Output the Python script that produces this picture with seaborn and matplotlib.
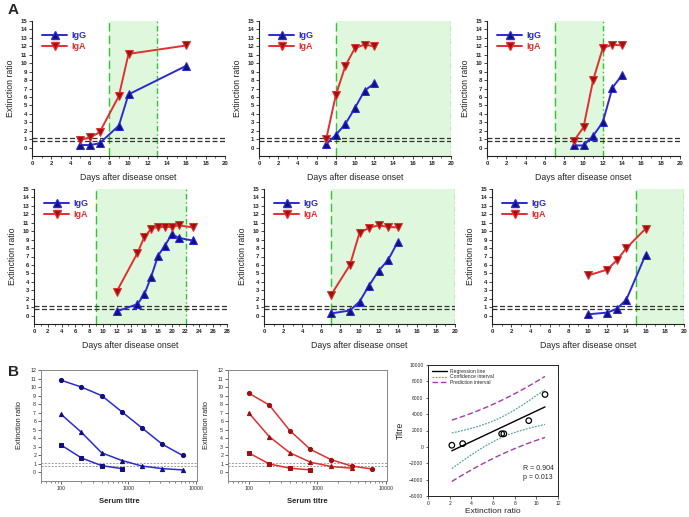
import numpy as np
import pandas as pd
import matplotlib
matplotlib.use("Agg")
import matplotlib.pyplot as plt
from matplotlib.lines import Line2D
import seaborn as sns

# ---- data: panel A (extinction ratio vs days after onset) ----
a_days = [
    [5, 6, 7, 9, 10, 16],
    [7, 8, 9, 10, 11, 12],
    [9, 10, 11, 12, 13, 14],
    [12, 15, 16, 17, 18, 19, 20, 21, 23],
    [7, 9, 10, 11, 12, 13, 14],
    [10, 12, 13, 14, 16],
]
a_igg = [
    [0.3, 0.3, 0.5, 2.6, 6.3, 9.7],
    [0.4, 1.5, 2.8, 4.7, 6.75, 7.6],
    [0.25, 0.25, 1.4, 3.0, 7.1, 8.6],
    [0.5, 1.35, 2.5, 4.6, 7.1, 8.3, 9.65, 9.2, 8.9],
    [0.25, 0.6, 1.65, 3.55, 5.3, 6.6, 8.7],
    [0.15, 0.35, 0.8, 1.9, 7.2],
]
a_iga = [
    [0.9, 1.2, 1.8, 6.1, 11.1, 12.1],
    [1.0, 6.2, 9.7, 11.8, 12.2, 12.0],
    [0.8, 2.4, 8.0, 11.8, 12.2, 12.1],
    [2.85, 7.4, 9.3, 10.3, 10.5, 10.5, 10.5, 10.7, 10.45],
    [2.4, 6.0, 9.8, 10.4, 10.7, 10.5, 10.45],
    [4.75, 5.45, 6.55, 8.0, 10.3],
]
a_window = [(8, 13), (8, 20), (7, 12), (9, 22), (7, 20), (15, 20)]
a_xmax = [20, 20, 20, 28, 20, 20]
cutoffs = [0.8, 1.1]

# ---- data: panel B (dilution series) ----
titres = [100, 200, 400, 800, 1600, 3200, 6400]
igg_dil = [
    [10.8, 10.0, 9.0, 7.1, 5.2, 3.3, 2.0],
    [6.8, 4.7, 2.3, 1.4, 0.75, 0.45, 0.3],
    [3.2, 1.7, 0.8, 0.45],
]
iga_dil = [
    [9.3, 7.9, 4.9, 2.7, 1.5, 0.75, 0.4],
    [7.0, 4.2, 2.3, 1.2, 0.7, 0.5],
    [2.3, 1.0, 0.5, 0.3],
]
reg_ext = [2.2, 3.2, 6.8, 7.0, 9.3, 10.8]
reg_titre = [200, 400, 1600, 1600, 3200, 6400]
T_CRIT = 2.776  # t(0.975, df=4)

sns.set_theme(style="ticks")
plt.rcParams["font.family"] = ["Liberation Sans", "DejaVu Sans"]

W, H = 689, 517
fig = plt.figure(figsize=(W / 100, H / 100), dpi=100)


def box(l, t, r, b):
    return [l / W, 1 - b / H, (r - l) / W, (b - t) / H]


BLUE, BLUE_M = "#2b2bd0", "#101080"
RED, RED_M = "#e03030", "#a01010"
GREEN = "#33c433"

a_boxes = [
    (32, 21, 225, 156), (259, 21, 451, 156), (487, 21, 680, 156),
    (34, 189, 227, 324), (264, 189, 455, 324), (492, 189, 684, 324),
]

for i, bb in enumerate(a_boxes):
    ax = fig.add_axes(box(*bb))
    lo, hi = a_window[i]
    ax.axvspan(lo, hi, color="#dff7dc", zorder=0)
    ax.axvline(lo, color=GREEN, ls=(0, (6, 3)), lw=1.0, zorder=1)
    ax.axvline(hi, color=GREEN, ls=(0, (4, 2, 1, 2)), lw=1.0, zorder=1)
    for c in cutoffs:
        ax.axhline(c, color="#333333", ls=(0, (4, 2)), lw=0.9, zorder=1)
    df = pd.DataFrame({"day": a_days[i], "IgG": a_igg[i], "IgA": a_iga[i]})
    sns.lineplot(data=df, x="day", y="IgG", ax=ax, color=BLUE, lw=1.4,
                 marker="^", markersize=5.5, markerfacecolor=BLUE_M,
                 markeredgecolor=BLUE, zorder=3)
    sns.lineplot(data=df, x="day", y="IgA", ax=ax, color=RED, lw=1.4,
                 marker="v", markersize=5.5, markerfacecolor=RED_M,
                 markeredgecolor=RED, zorder=4)
    ax.set_xlim(0, a_xmax[i])
    ax.set_ylim(-1, 15)
    ax.set_xticks(np.arange(0, a_xmax[i] + 1, 2))
    ax.set_xticks(np.arange(0, a_xmax[i] + 1, 1), minor=True)
    ax.set_yticks(np.arange(0, 16, 1))
    ax.tick_params(labelsize=4.3, length=2, width=0.6, pad=1.5)
    ax.tick_params(which="minor", length=1.2, width=0.5)
    for lab in ax.get_xticklabels() + ax.get_yticklabels():
        lab.set_fontweight("bold")
    sns.despine(ax=ax)
    for s in ["left", "bottom"]:
        ax.spines[s].set_linewidth(0.8)
        ax.spines[s].set_color("#222222")
    ax.set_xlabel("Days after disease onset", fontsize=6.3, labelpad=5)
    ax.set_ylabel("Extinction ratio", fontsize=6.3, labelpad=4)
    handles = [
        Line2D([], [], color=BLUE, lw=1.4, marker="^", markersize=5.5,
               markerfacecolor=BLUE_M, markeredgecolor=BLUE),
        Line2D([], [], color=RED, lw=1.4, marker="v", markersize=5.5,
               markerfacecolor=RED_M, markeredgecolor=RED),
    ]
    leg = ax.legend(handles, ["IgG", "IgA"], loc="upper left", frameon=False,
                    fontsize=6.5, handlelength=2.8, borderaxespad=0.3,
                    labelspacing=0.15, handletextpad=0.4,
                    bbox_to_anchor=(0.02, 0.97))
    for t, c in zip(leg.get_texts(), [BLUE, RED]):
        t.set_color(c)
        t.set_fontweight("bold")

fig.text(8 / W, 1 - 10 / H, "A", fontsize=11, fontweight="bold", va="center")
fig.text(8 / W, 1 - 372 / H, "B", fontsize=11, fontweight="bold", va="center")

# ---- panel B: dilution curves ----
b_boxes = [(41, 370, 197, 481), (228, 370, 387, 481)]
markers = ["o", "^", "s"]
for bb, series, col, mcol in zip(b_boxes, [igg_dil, iga_dil], [BLUE, RED], [BLUE_M, RED_M]):
    ax = fig.add_axes(box(*bb))
    for c in cutoffs:
        ax.axhline(c, color="#9a9a9a", ls=(0, (2, 1.5)), lw=0.7, zorder=1)
    for k, vals in enumerate(series):
        d = pd.DataFrame({"titre": titres[:len(vals)], "ratio": vals})
        sns.lineplot(data=d, x="titre", y="ratio", ax=ax, color=col, lw=1.1,
                     marker=markers[k], markersize=3, markerfacecolor=mcol,
                     markeredgecolor=mcol, zorder=3)
    ax.set_xscale("log")
    ax.set_xlim(50, 10500)
    ax.set_ylim(-1, 12)
    ax.set_yticks(np.arange(0, 13, 1))
    ax.set_xticks([100, 1000, 10000])
    ax.set_xticklabels(["100", "1000", "10000"])
    ax.tick_params(labelsize=3.8, length=2, width=0.5, pad=1.5)
    ax.tick_params(which="minor", length=1.2, width=0.4)
    for s in ax.spines.values():
        s.set_color("#888888")
        s.set_linewidth(0.7)
    ax.set_xlabel("Serum titre", fontsize=5.5, fontweight="bold", labelpad=5)
    ax.set_ylabel("Extinction ratio", fontsize=5.3, labelpad=5)

# ---- panel B: regression ----
x = np.array(reg_ext)
y = np.array(reg_titre, dtype=float)
n = len(x)
slope, intercept = np.polyfit(x, y, 1)
resid = y - (slope * x + intercept)
s_err = np.sqrt(np.sum(resid ** 2) / (n - 2))
sxx = np.sum((x - x.mean()) ** 2)
xs = np.linspace(x.min(), x.max(), 60)
ys = slope * xs + intercept
ci = T_CRIT * s_err * np.sqrt(1 / n + (xs - x.mean()) ** 2 / sxx)
pi = T_CRIT * s_err * np.sqrt(1 + 1 / n + (xs - x.mean()) ** 2 / sxx)
r_val = np.corrcoef(x, y)[0, 1]

ax = fig.add_axes(box(428, 365, 558, 496))
fit = pd.DataFrame({"x": xs, "fit": ys, "cl": ys - ci, "cu": ys + ci,
                    "pl": ys - pi, "pu": ys + pi})
sns.lineplot(data=fit, x="x", y="fit", ax=ax, color="black", lw=1.0,
             label="Regression line")
sns.lineplot(data=fit, x="x", y="cu", ax=ax, color="#5aa89a", lw=0.9,
             ls=(0, (1.5, 1)), label="Confidence interval")
sns.lineplot(data=fit, x="x", y="cl", ax=ax, color="#5aa89a", lw=0.9,
             ls=(0, (1.5, 1)), label="_nolegend_")
sns.lineplot(data=fit, x="x", y="pu", ax=ax, color="#a23ca8", lw=1.0,
             ls=(0, (4, 2)), label="Prediction interval")
sns.lineplot(data=fit, x="x", y="pl", ax=ax, color="#a23ca8", lw=1.0,
             ls=(0, (4, 2)), label="_nolegend_")
sns.scatterplot(x=x, y=y, ax=ax, s=16, facecolor="none", edgecolor="black",
                linewidth=0.9, zorder=4)
ax.set_xlim(0, 12)
ax.set_ylim(-6000, 10000)
ax.set_xticks(np.arange(0, 13, 2))
ax.set_yticks(np.arange(-6000, 10001, 2000))
ax.tick_params(labelsize=3.6, length=1.8, width=0.5, pad=1.5)
for s in ax.spines.values():
    s.set_color("#222222")
    s.set_linewidth(0.7)
ax.set_xlabel("Extinction ratio", fontsize=6.0, labelpad=1.5)
ax.set_ylabel("Titre", fontsize=6.3, labelpad=3)
ax.legend(loc="upper left", frameon=False, fontsize=3.6, handlelength=3,
          labelspacing=0.1, borderaxespad=0.4, handletextpad=0.5)
ax.text(8.8, -2700, f"R = {r_val:.3f}", fontsize=5, va="center")
ax.text(8.8, -3700, "p = 0.013", fontsize=5, va="center")

fig.savefig("out.png", dpi=100)
